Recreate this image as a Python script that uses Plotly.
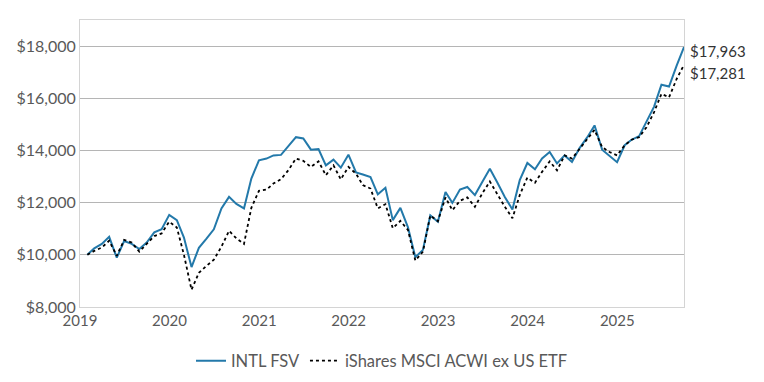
import pandas as pd
import plotly.graph_objects as go

dates = pd.date_range("2019-01-31", periods=81, freq="ME")

fund_name = "INTL FSV"
bench_name = "iShares MSCI ACWI ex US ETF"

fund = [10000, 10250, 10420, 10690, 9890, 10530, 10420, 10220, 10470, 10860,
        10980, 11530, 11330, 10660, 9530, 10270, 10620, 10980, 11780, 12220,
        11950, 11780, 12920, 13620, 13690, 13810, 13830, 14180, 14510, 14460,
        14030, 14050, 13430, 13650, 13340, 13840, 13160, 13080, 12980, 12320,
        12570, 11330, 11800, 11050, 9910, 10190, 11510, 11270, 12410, 11990,
        12500, 12600, 12290, 12790, 13300, 12760, 12220, 11740, 12860, 13520,
        13280, 13690, 13940, 13500, 13810, 13560, 14090, 14500, 14960, 14030,
        13810, 13550, 14200, 14410, 14550, 15080, 15680, 16520, 16450, 17250,
        17963]

bench = [10000, 10150, 10280, 10540, 9960, 10570, 10470, 10120, 10420, 10720,
         10820, 11270, 11050, 10000, 8660, 9310, 9580, 9810, 10310, 10920,
         10630, 10420, 11800, 12450, 12500, 12730, 12900, 13240, 13690, 13600,
         13370, 13580, 13050, 13430, 12890, 13370, 13110, 12670, 12540, 11780,
         11940, 11020, 11300, 10950, 9780, 10120, 11510, 11290, 12200, 11710,
         12070, 12200, 11840, 12350, 12810, 12290, 11840, 11400, 12290, 12960,
         12760, 13180, 13580, 13240, 13810, 13690, 14070, 14450, 14790, 14130,
         13940, 13810, 14200, 14410, 14510, 14890, 15470, 16170, 16040, 16740,
         17281]

y_ticks = [8000, 10000, 12000, 14000, 16000, 18000]
y_tick_text = ["$8,000", "$10,000", "$12,000", "$14,000", "$16,000", "$18,000"]

FONT = "Lato, 'Open Sans', sans-serif"
TXT = "#595959"

fig = go.Figure()
fig.add_trace(go.Scatter(x=dates, y=fund, mode="lines", name=fund_name,
                         line=dict(color="#2379aa", width=2)))
fig.add_trace(go.Scatter(x=dates, y=bench, mode="lines", name=bench_name,
                         line=dict(color="#000000", width=1.8, dash="dot")))

fig.add_annotation(x=1, xref="paper", xanchor="left", xshift=4, y=fund[-1], yref="y",
                   yshift=-4, text="$17,963", showarrow=False,
                   font=dict(family=FONT, size=15, color="#333333"))
fig.add_annotation(x=1, xref="paper", xanchor="left", xshift=4, y=bench[-1], yref="y",
                   yshift=-8, text="$17,281", showarrow=False,
                   font=dict(family=FONT, size=15, color="#333333"))

fig.update_layout(
    width=764, height=382,
    margin=dict(l=72, r=88, t=12, b=83, autoexpand=False),
    paper_bgcolor="white", plot_bgcolor="white",
    font=dict(family=FONT, size=15, color=TXT),
    showlegend=True,
    legend=dict(orientation="h", x=0.5, xanchor="center", y=-0.188, yanchor="middle",
                font=dict(family=FONT, size=16.5, color=TXT), itemwidth=30,
                traceorder="normal"),
)
fig.update_xaxes(range=["2019-01-01", "2025-09-30"], dtick="M12", tick0="2019-01-01",
                 tickformat="%Y", showgrid=False, showline=True, linecolor="#d4d4d4",
                 mirror=True, ticks="", automargin=False, tickfont=dict(size=15, color=TXT))
fig.update_yaxes(range=[8000, 19000], tickvals=y_ticks, ticktext=y_tick_text,
                 showgrid=True, gridcolor="#b5b5b5",
                 gridwidth=1, showline=True, linecolor="#d4d4d4", mirror=True,
                 zeroline=False, ticks="", automargin=False, tickfont=dict(size=16, color=TXT))

fig.write_html("out.html")
